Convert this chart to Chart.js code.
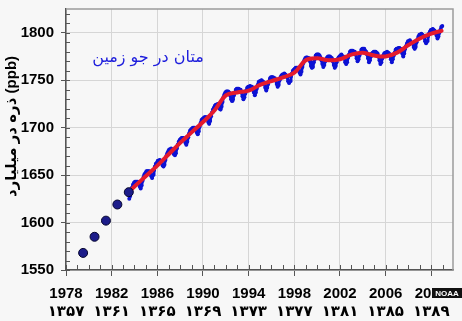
<!DOCTYPE html>
<html>
<head>
<meta charset="utf-8">
<script src="https://cdn.jsdelivr.net/npm/chart.js@4/dist/chart.umd.min.js"></script>
<style>
  html, body { margin: 0; padding: 0; background: #f7f7f7; }
  #wrap { width: 462px; height: 321px; }
</style>
</head>
<body>
<div id="wrap"><canvas id="ch4" width="462" height="321"></canvas></div>
<script>
'use strict'

// annual flask values before the monthly record
const earlyYears = [1979.5, 1980.5, 1981.5, 1982.5, 1983.5];
const earlyValues = [1568, 1585, 1602, 1619, 1632];

// monthly global means, Jul 1983 .. Dec 2010
const monthlyStartYear = 1983;
const monthlyStartMonth = 6;
const monthlyValues = [
	1625, 1628, 1633, 1637, 1640, 1642,
	1643, 1643, 1643, 1643, 1641, 1638, 1636, 1639, 1644, 1648, 1651, 1652,
	1654, 1654, 1654, 1654, 1652, 1649, 1647, 1650, 1655, 1659, 1662, 1663,
	1665, 1665, 1666, 1665, 1663, 1660, 1659, 1661, 1666, 1670, 1673, 1675,
	1677, 1677, 1678, 1677, 1675, 1672, 1671, 1673, 1678, 1682, 1685, 1687,
	1688, 1689, 1689, 1689, 1687, 1684, 1682, 1685, 1690, 1694, 1697, 1698,
	1699, 1700, 1700, 1700, 1698, 1695, 1693, 1696, 1701, 1705, 1708, 1709,
	1710, 1711, 1711, 1711, 1709, 1706, 1704, 1707, 1712, 1716, 1719, 1721,
	1723, 1724, 1724, 1725, 1723, 1720, 1719, 1722, 1727, 1732, 1735, 1737,
	1738, 1738, 1738, 1737, 1734, 1730, 1728, 1730, 1734, 1737, 1740, 1741,
	1741, 1741, 1740, 1740, 1737, 1733, 1730, 1732, 1736, 1739, 1742, 1743,
	1743, 1744, 1742, 1743, 1740, 1737, 1734, 1737, 1741, 1745, 1748, 1749,
	1749, 1750, 1749, 1748, 1746, 1742, 1739, 1742, 1746, 1749, 1752, 1753,
	1753, 1753, 1752, 1752, 1750, 1746, 1743, 1745, 1750, 1753, 1755, 1756,
	1756, 1757, 1756, 1755, 1753, 1749, 1747, 1749, 1754, 1757, 1760, 1761,
	1762, 1763, 1763, 1763, 1761, 1758, 1756, 1759, 1764, 1768, 1771, 1773,
	1774, 1774, 1773, 1773, 1770, 1765, 1763, 1764, 1769, 1772, 1776, 1777,
	1777, 1777, 1776, 1774, 1771, 1767, 1764, 1766, 1770, 1772, 1774, 1775,
	1775, 1775, 1774, 1773, 1770, 1766, 1763, 1765, 1769, 1772, 1774, 1775,
	1776, 1777, 1775, 1775, 1773, 1769, 1767, 1769, 1774, 1777, 1780, 1781,
	1781, 1781, 1780, 1780, 1777, 1773, 1770, 1772, 1776, 1779, 1782, 1783,
	1783, 1783, 1781, 1780, 1777, 1773, 1769, 1771, 1775, 1778, 1779, 1780,
	1780, 1780, 1779, 1778, 1775, 1771, 1767, 1769, 1773, 1776, 1778, 1779,
	1779, 1780, 1779, 1778, 1776, 1772, 1769, 1772, 1776, 1779, 1782, 1783,
	1783, 1784, 1784, 1783, 1781, 1778, 1775, 1778, 1783, 1786, 1789, 1791,
	1791, 1792, 1790, 1789, 1789, 1785, 1783, 1785, 1790, 1793, 1796, 1798,
	1798, 1799, 1798, 1797, 1795, 1791, 1789, 1791, 1796, 1799, 1801, 1803,
	1803, 1804, 1803, 1802, 1800, 1797, 1794, 1796, 1800, 1803, 1806, 1807,
];

// deseasonalized trend
const trendYears = [1983.5, 1984, 1985, 1986, 1987, 1988, 1989, 1990, 1991, 1992, 1993, 1994, 1995, 1996, 1997, 1998, 1999, 2000, 2001, 2002, 2003, 2004, 2005, 2006, 2007, 2008, 2009, 2010, 2010.9];
const trendValues = [1632, 1638, 1649, 1660, 1672, 1684, 1695, 1706, 1718, 1734, 1737, 1739, 1745, 1749, 1753, 1758, 1771, 1773, 1771, 1772, 1777, 1779, 1776, 1775, 1779, 1787, 1794, 1799, 1802];

// tick labels
const xTickYears = [1978, 1982, 1986, 1990, 1994, 1998, 2002, 2006, 2010];
const xTickPersian = ['۱۳۵۷', '۱۳۶۱', '۱۳۶۵', '۱۳۶۹', '۱۳۷۳', '۱۳۷۷', '۱۳۸۱', '۱۳۸۵', '۱۳۸۹'];
const yTickValues = [1550, 1600, 1650, 1700, 1750, 1800];

const chartTitle = 'متان در جو زمین';
const yTitle = 'ذره در میلیارد (ppb)';

const monthlyPoints = monthlyValues.map((v, i) => ({
	x: monthlyStartYear + (monthlyStartMonth + i + 0.5) / 12,
	y: v,
}));
const trendPoints = trendYears.map((x, i) => ({ x: x, y: trendValues[i] }));
const earlyPoints = earlyYears.map((x, i) => ({ x: x, y: earlyValues[i] }));

const labelFont = { family: '"Liberation Sans", Arial, "DejaVu Sans"', size: 15, weight: 'bold' };

const extras = {
	id: 'extras',
	afterDraw(chart) {
		const { ctx, chartArea: { top, bottom, left, right } } = chart;
		const xs = chart.scales.x, ys = chart.scales.y;
		ctx.save();

		// top and right frame
		ctx.strokeStyle = '#9c9c9c';
		ctx.lineWidth = 1.5;
		ctx.beginPath();
		ctx.moveTo(left, top);
		ctx.lineTo(right, top);
		ctx.lineTo(right, bottom);
		ctx.stroke();

		// minor ticks inside the axes
		ctx.strokeStyle = '#555';
		ctx.lineWidth = 1;
		ctx.beginPath();
		xs.ticks.forEach(t => {
			const px = Math.round(xs.getPixelForValue(t.value)) + 0.5;
			ctx.moveTo(px, bottom);
			ctx.lineTo(px, bottom - 5);
		});
		ys.ticks.forEach(t => {
			const py = Math.round(ys.getPixelForValue(t.value)) + 0.5;
			ctx.moveTo(left, py);
			ctx.lineTo(left + 4, py);
		});
		ctx.stroke();

		// y axis title
		ctx.save();
		ctx.translate(12, (top + bottom) / 2 - 13);
		ctx.rotate(-Math.PI / 2);
		ctx.fillStyle = '#000';
		ctx.font = 'bold 15px "Liberation Sans", "DejaVu Sans"';
		ctx.textAlign = 'center';
		ctx.textBaseline = 'middle';
		ctx.fillText(yTitle, 0, 0);
		ctx.restore();

		// title inside the plot
		ctx.fillStyle = '#1d1ddc';
		ctx.font = '16px "DejaVu Sans"';
		ctx.textAlign = 'center';
		ctx.textBaseline = 'middle';
		ctx.fillText(chartTitle, left + 82, top + 49);

		// NOAA tag
		const w = chart.width;
		ctx.fillStyle = '#111';
		ctx.fillRect(w - 30, 288, 30, 10);
		ctx.fillStyle = '#fff';
		ctx.font = 'bold 8px "Liberation Sans"';
		ctx.fillText('NOAA', w - 15, 293.5);
		ctx.restore();
	},
};

new Chart(document.getElementById('ch4'), {
	type: 'line',
	data: {
		datasets: [
			{
				data: earlyPoints,
				showLine: false,
				pointRadius: 4.5,
				pointBackgroundColor: '#1c1c8a',
				pointBorderColor: '#05052e',
				pointBorderWidth: 1,
			},
			{
				data: trendPoints,
				borderColor: '#e51a2c',
				borderWidth: 4,
				tension: 0.4,
				pointRadius: 0,
				borderCapStyle: 'round',
			},
			{
				data: monthlyPoints,
				borderColor: '#0d12d4',
				borderWidth: 3,
				borderJoinStyle: 'round',
				pointRadius: 2,
				pointBorderWidth: 0,
				pointBackgroundColor: '#0d12d4',
			},
		],
	},
	options: {
		responsive: false,
		animation: false,
		events: [],
		layout: { padding: { left: 0, right: 9, top: 9, bottom: 0 } },
		plugins: {
			legend: { display: false },
			tooltip: { enabled: false },
		},
		scales: {
			x: {
				type: 'linear',
				min: 1978,
				max: 2011.9,
				afterBuildTicks: scale => {
					const ticks = [];
					for (let y = 1978; y <= 2011; y++) ticks.push({ value: y });
					scale.ticks = ticks;
				},
				afterFit: scale => {
					scale.height = 51;
					scale.paddingLeft = 0;
					scale.paddingRight = 0;
				},
				ticks: {
					autoSkip: false,
					maxRotation: 0,
					padding: 9,
					color: '#000',
					font: labelFont,
					callback: v => {
						const i = xTickYears.indexOf(v);
						return i < 0 ? '' : [String(v), xTickPersian[i]];
					},
				},
				grid: {
					color: c => xTickYears.includes(c.tick && c.tick.value) ? '#d6d6d6' : 'transparent',
					tickColor: c => xTickYears.includes(c.tick && c.tick.value) ? '#555' : 'transparent',
					tickLength: 6,
				},
				border: { color: '#555', width: 1.5 },
			},
			y: {
				min: 1550,
				max: 1825,
				afterBuildTicks: scale => {
					const ticks = [];
					for (let v = 1550; v <= 1820; v += 10) ticks.push({ value: v });
					scale.ticks = ticks;
				},
				afterFit: scale => {
					scale.width = 66;
					scale.paddingTop = 0;
					scale.paddingBottom = 0;
				},
				ticks: {
					autoSkip: false,
					padding: 7,
					color: '#000',
					font: labelFont,
					callback: v => yTickValues.includes(v) ? String(v) : '',
				},
				grid: {
					color: c => yTickValues.includes(c.tick && c.tick.value) ? '#d6d6d6' : 'transparent',
					tickColor: c => yTickValues.includes(c.tick && c.tick.value) ? '#555' : 'transparent',
					tickLength: 5,
				},
				border: { color: '#555', width: 1.5 },
			},
		},
	},
	plugins: [extras],
});
</script>
</body>
</html>
